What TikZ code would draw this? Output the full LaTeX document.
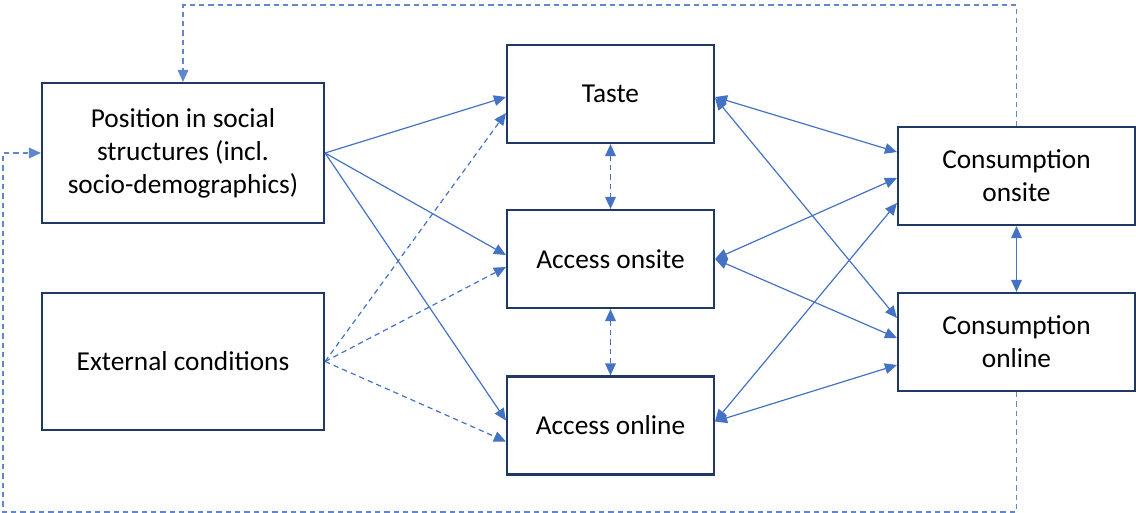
\documentclass[tikz,border=0pt]{standalone}
\usepackage{fontspec}
\setmainfont{Carlito}
\usepackage{tikz}
\usetikzlibrary{%
	calc,%
	arrows.meta%
}
\definecolor{boxnavy}{RGB}{31,56,100}
\definecolor{arrblue}{RGB}{68,114,196}

\begin{document}
\begin{tikzpicture}[x=0.75pt,y=-0.75pt,
			>={Triangle[length=9pt,width=8pt]},
			box/.style={draw=boxnavy,line width=1.6pt,align=center,inner sep=0pt,
				font=\fontsize{20.5}{24.75}\selectfont},
			link/.style={arrblue,line width=0.9pt},
			dlink/.style={link,dash pattern=on 4pt off 3pt},
			fb/.style={arrblue!85,line width=0.9pt,dash pattern=on 4pt off 3pt}]
			\useasboundingbox (0,0) rectangle (1136,513);
			
			% Boxes
			\node[box,minimum width=211.5pt,minimum height=105pt] (pos) at (183,153)
				{Position in social\\structures (incl.\\socio-demographics)};
			\node[box,minimum width=211.5pt,minimum height=102.75pt] (ext) at (183,361.5)
				{External conditions};
			\node[box,minimum width=155.25pt,minimum height=73.5pt] (taste) at (610.5,94) {Taste};
			\node[box,minimum width=155.25pt,minimum height=73.5pt] (accon) at (610.5,259) {Access onsite};
			\node[box,minimum width=155.25pt,minimum height=73.5pt] (acconl) at (610.5,425.5) {Access online};
			\node[box,minimum width=177.75pt,minimum height=73.5pt] (conon) at (1016.5,176)
				{Consumption\\onsite};
			\node[box,minimum width=177.75pt,minimum height=73.5pt] (conol) at (1016.5,342)
				{Consumption\\online};
			
			% Left side into the middle column
			\draw[link,->] (pos.east) -- ($(taste.west)+(0,3)$);
			\draw[link,->] (pos.east) -- ($(accon.west)+(0,-4)$);
			\draw[link,->] (pos.east) -- ($(acconl.west)+(0,-5)$);
			\draw[dlink,->] (ext.east) -- ($(taste.west)+(0,19)$);
			\draw[dlink,->] (ext.east) -- ($(accon.west)+(0,8)$);
			\draw[dlink,->] (ext.east) -- ($(acconl.west)+(0,16)$);
			
			% Middle column
			\draw[dlink,<->] (taste.south) -- (accon.north);
			\draw[dlink,<->] (accon.south) -- (acconl.north);
			
			% Middle column to consumption
			\draw[link,<->] ($(taste.east)+(0,3)$) -- ($(conon.west)+(0,-24)$);
			\draw[link,<->] ($(taste.east)+(0,4)$) -- ($(conol.west)+(0,-24)$);
			\draw[link,<->] (accon.east) -- ($(conon.west)+(0,2)$);
			\draw[link,<->] (accon.east) -- ($(conol.west)+(0,-4)$);
			\draw[link,<->] ($(acconl.east)+(0,-4)$) -- ($(conon.west)+(0,27)$);
			\draw[link,<->] ($(acconl.east)+(0,-4)$) -- ($(conol.west)+(0,23)$);
			\draw[link,<->] (conon.south) -- (conol.north);
			
			% Feedback loops back to the social position
			\draw[fb,->] (conon.north) -- ++(0,-121) -| (pos.north);
			\draw[fb,->] (conol.south) |- (3,512) |- (pos.west);
		\end{tikzpicture}
\end{document}
